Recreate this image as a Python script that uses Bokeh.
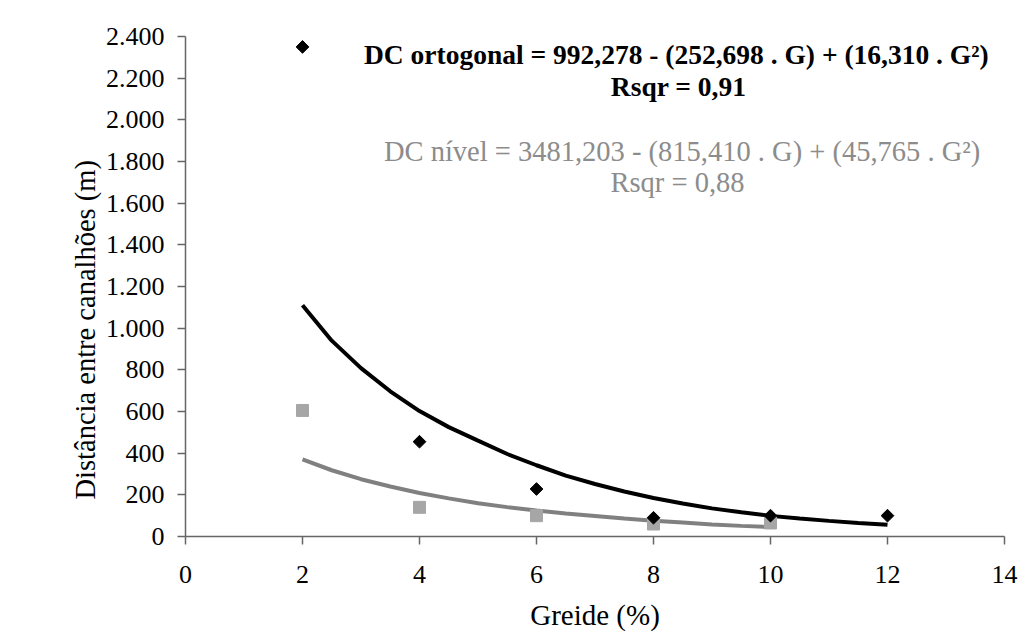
import math
from bokeh.plotting import figure
from bokeh.models import Range1d, FixedTicker, Label, Title
from bokeh.embed import file_html
from bokeh.resources import INLINE

# ---- data ----
greide = [2, 4, 6, 8, 10, 12]
dc_ortogonal = [2350, 455, 228, 90, 100, 100]
greide_nivel = [2, 4, 6, 8, 10]
dc_nivel = [605, 140, 100, 60, 65]

# trend curves
curve_ort_x = [2, 2.5, 3, 3.5, 4, 4.5, 5, 5.5, 6, 6.5, 7, 7.5, 8, 8.5, 9, 9.5, 10, 10.5, 11, 11.5, 12]
curve_ort_y = [1110, 940, 808, 697, 602, 525, 460, 396, 342, 292, 252, 216, 185, 158, 135, 116, 99, 86, 75, 65, 56]
curve_niv_x = [2, 2.5, 3, 3.5, 4, 4.5, 5, 5.5, 6, 6.5, 7, 7.5, 8, 8.5, 9, 9.5, 10]
curve_niv_y = [370, 318, 275, 240, 209, 183, 160, 141, 125, 110, 98, 86, 76, 67, 58, 51, 45]

x_ticks = [0, 2, 4, 6, 8, 10, 12, 14]
y_ticks = [0, 200, 400, 600, 800, 1000, 1200, 1400, 1600, 1800, 2000, 2200, 2400]
y_tick_labels = ["0", "200", "400", "600", "800", "1.000", "1.200", "1.400",
                 "1.600", "1.800", "2.000", "2.200", "2.400"]

eq_ortogonal = "DC ortogonal = 992,278 - (252,698 . G) + (16,310 . G\u00b2)"
rsqr_ortogonal = "Rsqr = 0,91"
eq_nivel = "DC n\u00edvel = 3481,203 - (815,410 . G) +  (45,765 . G\u00b2)"
rsqr_nivel = "Rsqr = 0,88"
y_title = "Dist\u00e2ncia entre canalh\u00f5es (m)"
x_title = "Greide (%)"

FONT = "Liberation Serif"

p = figure(width=1018, height=633, output_backend="svg", toolbar_location=None,
           x_range=Range1d(0, 14), y_range=Range1d(0, 2400),
           min_border_left=185, min_border_right=14, min_border_top=36,
           min_border_bottom=97)
p.outline_line_color = None
p.xgrid.visible = False
p.ygrid.visible = False
p.background_fill_color = "white"
p.border_fill_color = "white"

for ax in (p.xaxis[0], p.yaxis[0]):
    ax.axis_line_color = "#666666"
    ax.axis_line_width = 1.5
    ax.major_tick_line_color = "#666666"
    ax.major_tick_line_width = 1.5
    ax.major_tick_in = 0
    ax.major_tick_out = 8
    ax.minor_tick_line_color = None
    ax.major_label_text_font = FONT
    ax.major_label_text_font_size = "26px"
    ax.major_label_text_color = "black"
    ax.axis_label_text_font = FONT
    ax.axis_label_text_font_size = "29px"
    ax.axis_label_text_font_style = "normal"
    ax.axis_label_text_color = "black"

p.xaxis.ticker = FixedTicker(ticks=x_ticks)
p.yaxis.ticker = FixedTicker(ticks=y_ticks)
p.yaxis.major_label_overrides = {t: l for t, l in zip(y_ticks, y_tick_labels)}
p.xaxis.major_label_standoff = 21
p.yaxis.major_label_standoff = 13
p.xaxis.axis_label = x_title
p.xaxis.axis_label_standoff = 13

# y axis title, shifted downwards as in the reference
p.add_layout(Title(text=y_title, align="left", offset=37, text_font=FONT,
                   text_font_size="28.5px", text_font_style="normal",
                   text_color="black", standoff=4), "left")

# curves
p.line(curve_ort_x, curve_ort_y, line_color="black", line_width=4)
p.line(curve_niv_x, curve_niv_y, line_color="#808080", line_width=4)

# points
p.scatter(greide_nivel, dc_nivel, marker="square", size=12,
          fill_color="#a6a6a6", line_color="#a6a6a6")
p.scatter(greide, dc_ortogonal, marker="square", size=9, angle=math.pi / 4,
          fill_color="black", line_color="black")

# equations
p.add_layout(Label(x=8.39, y=2312, text=eq_ortogonal, text_align="center",
                   text_baseline="middle", text_font=FONT, text_font_size="27.5px",
                   text_font_style="bold", text_color="black"))
p.add_layout(Label(x=8.43, y=2160, text=rsqr_ortogonal, text_align="center",
                   text_baseline="middle", text_font=FONT, text_font_size="27.5px",
                   text_font_style="bold", text_color="black"))
p.add_layout(Label(x=8.55, y=1850, text=eq_nivel, text_align="center",
                   text_baseline="middle", text_font=FONT, text_font_size="28.5px",
                   text_color="#8c8c8c"))
p.add_layout(Label(x=8.41, y=1700, text=rsqr_nivel, text_align="center",
                   text_baseline="middle", text_font=FONT, text_font_size="28.5px",
                   text_color="#8c8c8c"))

open("out.html", "w").write(file_html(p, INLINE))
